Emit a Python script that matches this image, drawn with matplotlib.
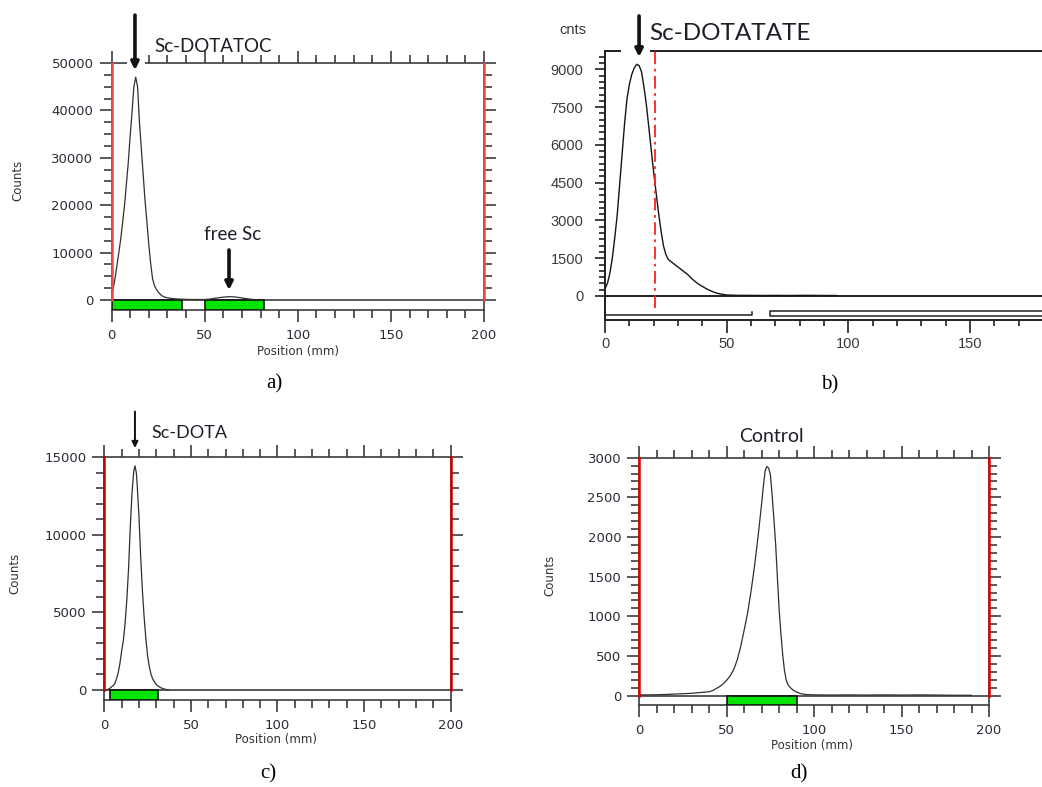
import matplotlib
matplotlib.use("Agg")
import matplotlib.pyplot as plt
from matplotlib.ticker import MultipleLocator, FixedLocator
from matplotlib.patches import Rectangle
import numpy as np

# ---------------- radio-TLC scans ----------------
# a) Sc-DOTATOC
pos_a = [0, 1, 2, 3, 4, 5, 6, 7, 8, 9, 10, 11, 12, 13, 14, 15, 16, 17, 18, 19,
         20, 21, 22, 23, 24, 25, 27, 29, 32, 35, 40, 45, 50, 53, 56, 60, 63, 66,
         69, 72, 75, 78]
cnt_a = [900, 2500, 4800, 7500, 10200, 13000, 16500, 20000, 24500, 29000, 34500,
         39500, 45000, 47000, 45000, 37500, 32000, 26500, 21000, 16500, 11800,
         7800, 4600, 3100, 2300, 1700, 900, 550, 330, 220, 130, 100, 100, 200, 400,
         600, 700, 650, 500, 300, 150, 50]
roi_a = [(0, 38), (50, 82)]

# b) Sc-DOTATATE
pos_b = [0, 1, 2, 3, 4, 5, 6, 7, 8, 9, 10, 11, 12, 13, 14, 15, 16, 17, 18, 19,
         20, 21, 22, 23, 24, 25, 26, 28, 30, 32, 34, 36, 38, 40, 42, 44, 46, 48,
         50, 55, 60, 65, 70, 75, 80, 85, 90, 95]
cnt_b = [300, 500, 900, 1500, 2300, 3200, 4400, 5600, 6800, 7800, 8400, 8800,
         9050, 9200, 9150, 8900, 8300, 7600, 6700, 5800, 4900, 4100, 3300, 2600,
         2000, 1650, 1450, 1300, 1150, 1000, 850, 660, 500, 380, 270, 180, 110,
         70, 40, 25, 25, 20, 25, 20, 25, 25, 20, 20]
front_b = 20.5

# c) Sc-DOTA
pos_c = [1.5, 3, 4, 5, 6, 7, 8, 9, 10, 11, 12, 13, 14, 15, 16, 17, 17.7, 18.5,
         19, 20, 21, 22, 23, 24, 25, 26, 27, 28, 30, 32, 34, 37]
cnt_c = [0, 100, 180, 280, 400, 700, 1100, 1700, 2500, 3200, 4300, 5800, 7800,
         10500, 12700, 14100, 14450, 14000, 13200, 11200, 8600, 6400, 4700, 3300,
         2200, 1500, 1000, 700, 350, 180, 80, 0]
roi_c = [(3.3, 31.2)]

# d) Control
pos_d = [0, 5, 10, 15, 20, 25, 30, 35, 40, 42, 44, 46, 48, 50, 52, 54, 56, 58, 60,
         62, 64, 66, 68, 70, 71, 72, 73, 74, 75, 76, 77, 78, 79, 80, 81, 82, 83,
         84, 85, 86, 88, 90, 92, 95, 100, 110, 120, 130, 140, 150, 160, 170, 180,
         190]
cnt_d = [10, 10, 12, 15, 20, 25, 30, 40, 50, 65, 90, 115, 150, 195, 250, 330, 450,
         620, 830, 1050, 1330, 1650, 2020, 2430, 2650, 2840, 2890, 2870, 2780,
         2520, 2220, 1900, 1480, 1080, 780, 520, 320, 200, 140, 110, 70, 45, 28,
         15, 10, 8, 10, 8, 10, 8, 10, 8, 5, 5]
roi_d = [(50, 90.4)]

# ---------------- figure ----------------
W, H = 1042, 787
fig = plt.figure(figsize=(W / 100, H / 100), dpi=100)
fig.patch.set_facecolor("white")

SPINE = "#3c3c3c"
LINE = "#303030"
TICKTXT = "#2c2c38"
GREEN = "#00e400"
TITLE_FONT = ["Lato", "DejaVu Sans"]


def frame(left, top, right, bottom):
    """Axes placed by pixel edges on the 1042x787 canvas."""
    return fig.add_axes([left / W, 1 - bottom / H, (right - left) / W, (bottom - top) / H])


def scan_axes(ax, ymax, ybot, ymajor, yminor, red):
    ax.set_xlim(0, 200)
    ax.set_ylim(ybot, ymax)
    for s in ax.spines.values():
        s.set_color(SPINE)
        s.set_linewidth(1.2)
    ax.xaxis.set_major_locator(MultipleLocator(50))
    ax.xaxis.set_minor_locator(MultipleLocator(10))
    ax.yaxis.set_major_locator(MultipleLocator(ymajor))
    ax.yaxis.set_minor_locator(FixedLocator(np.arange(0, ymax + 1, yminor)))
    ax.tick_params(which="both", direction="out", top=True, right=True,
                   color=SPINE, width=1.2, labelcolor=TICKTXT, labelsize=9.5)
    ax.tick_params(which="major", length=8.5)
    ax.tick_params(which="minor", length=5.5)
    ax.tick_params(axis="x", which="major", pad=5)
    ax.tick_params(axis="y", which="major", pad=4.5)
    for lab in ax.get_xticklabels() + ax.get_yticklabels():
        lab.set_family("DejaVu Sans")
    ax.axhline(0, color=SPINE, lw=1.2, zorder=2)
    ax.plot([0, 0], [0, ymax], color=red, lw=1.8, zorder=3, clip_on=False)
    ax.plot([200, 200], [0, ymax], color=red, lw=1.8, zorder=3, clip_on=False)


def roi_bars(ax, rois, ybot):
    for x0, x1 in rois:
        ax.add_patch(Rectangle((x0, ybot), x1 - x0, -ybot, facecolor=GREEN,
                               edgecolor="#111111", lw=1.2, zorder=2.6))


def arrow(ax, x, y_tip, y_tail, lw=2.6, scale=11):
    ax.annotate("", xy=(x, y_tip), xytext=(x, y_tail), annotation_clip=False,
                zorder=6,
                arrowprops=dict(arrowstyle="-|>", color="#111111", lw=lw,
                                mutation_scale=scale, shrinkA=0, shrinkB=0))


# ---- a) Sc-DOTATOC ----
ax_a = frame(111.5, 63, 484, 310)
scan_axes(ax_a, 50000, -2110, 10000, 2500, "#f04848")
roi_bars(ax_a, roi_a, -2110)
ax_a.plot(pos_a, cnt_a, color=LINE, lw=0.9, zorder=2.7)
ax_a.add_patch(Rectangle((8.3, 49000), 9.7, 4000, facecolor="white",
                         edgecolor="none", zorder=4, clip_on=False))
arrow(ax_a, 12.6, 48500, 60100)
arrow(ax_a, 63.1, 2100, 10550)
ax_a.text(54.5, 53400, "Sc-DOTATOC", ha="center", va="center", fontsize=13.5,
          family=TITLE_FONT, color="#1e1e28")
ax_a.text(65.2, 13900, "free Sc", ha="center", va="center", fontsize=13.5,
          family=TITLE_FONT, color="#1e1e28")

# ---- b) Sc-DOTATATE ----
ax_b = frame(605, 50.7, 1091.8, 320)
ax_b.set_xlim(0, 200)
ax_b.set_ylim(-953, 9740)
ax_b.spines["right"].set_visible(False)
for s in ("left", "top", "bottom"):
    ax_b.spines[s].set_color("#202020")
    ax_b.spines[s].set_linewidth(1.4)
ax_b.xaxis.set_major_locator(FixedLocator([0, 50, 100, 150]))
ax_b.xaxis.set_minor_locator(FixedLocator(np.arange(0, 181, 10)))
ax_b.yaxis.set_major_locator(MultipleLocator(1500))
ax_b.yaxis.set_minor_locator(FixedLocator(np.arange(0, 9741, 250)))
ax_b.tick_params(which="both", direction="out", color="#202020", width=1.2,
                 labelcolor="#3a3a3a", labelsize=10.5)
ax_b.tick_params(axis="x", which="major", length=9.5, pad=3)
ax_b.tick_params(axis="x", which="minor", length=4.5)
ax_b.tick_params(axis="y", which="major", length=7.5, pad=8)
ax_b.tick_params(axis="y", which="minor", length=4)
for lab in ax_b.get_xticklabels() + ax_b.get_yticklabels():
    lab.set_family("Liberation Sans")
ax_b.axhline(0, color="#202020", lw=1.4, zorder=2)
ax_b.plot(pos_b, cnt_b, color="#151515", lw=1.0, zorder=3)
ax_b.plot([front_b, front_b], [-476, 9740], color="#ff2020", lw=1.3,
          linestyle=(0, (7, 2.5, 1.5, 2.5)), zorder=3)
# lane markers below the baseline
ax_b.plot([0, 60.3, 60.3], [-760, -760, -640], color="#202020", lw=1.1, zorder=3)
ax_b.plot([200, 67.6, 67.6, 200], [-600, -600, -790, -790], color="#202020",
          lw=1.1, zorder=3)
ax_b.add_patch(Rectangle((6.6, 9500), 11.9, 500, facecolor="white",
                         edgecolor="none", zorder=4, clip_on=False))
arrow(ax_b, 14, 9490, 11120)
ax_b.text(18.1, 10440, "Sc-DOTATATE", ha="left", va="center", fontsize=17.5,
          family=TITLE_FONT, color="#1e1e28")
ax_b.text(-13.1, 10560, "cnts", ha="center", va="center", fontsize=10.5,
          family="Liberation Sans", color="#3a3a3a")

# ---- c) Sc-DOTA ----
ax_c = frame(104.3, 457.3, 450.7, 700)
scan_axes(ax_c, 15000, -645, 5000, 1000, "#cc0000")
roi_bars(ax_c, roi_c, -645)
ax_c.plot(pos_c, cnt_c, color=LINE, lw=0.9, zorder=2.7)
arrow(ax_c, 17.7, 15600, 17950, lw=1.4, scale=9)
ax_c.text(48.9, 16570, "Sc-DOTA", ha="center", va="center", fontsize=13,
          family=TITLE_FONT, color="#1e1e28")

# ---- d) Control ----
ax_d = frame(639.3, 457.7, 989, 705.2)
scan_axes(ax_d, 3000, -120, 500, 100, "#e00000")
roi_bars(ax_d, roi_d, -120)
ax_d.plot(pos_d, cnt_d, color=LINE, lw=0.9, zorder=2.7)
ax_d.text(75.3, 3273, "Control", ha="center", va="center", fontsize=14,
          family=TITLE_FONT, color="#1e1e28")

# ---- axis titles ----
for x, y in [(18, 180), (15, 573), (550, 575)]:
    fig.text(x / W, 1 - y / H, "Counts", rotation=90, ha="center", va="center",
             fontsize=8.5, family="DejaVu Sans", color="#333333")
for x, y in [(298, 351), (276, 740), (812, 746)]:
    fig.text(x / W, 1 - y / H, "Position (mm)", ha="center", va="center",
             fontsize=8.5, family="DejaVu Sans", color="#333333")

# ---- panel captions ----
for x, y, s in [(274, 384, "a)"), (830, 385, "b)"), (268, 774, "c)"), (799, 774, "d)")]:
    fig.text(x / W, 1 - y / H, s, ha="center", va="center", fontsize=15,
             family="Liberation Serif", color="black")

fig.savefig("out.png", dpi=100)
